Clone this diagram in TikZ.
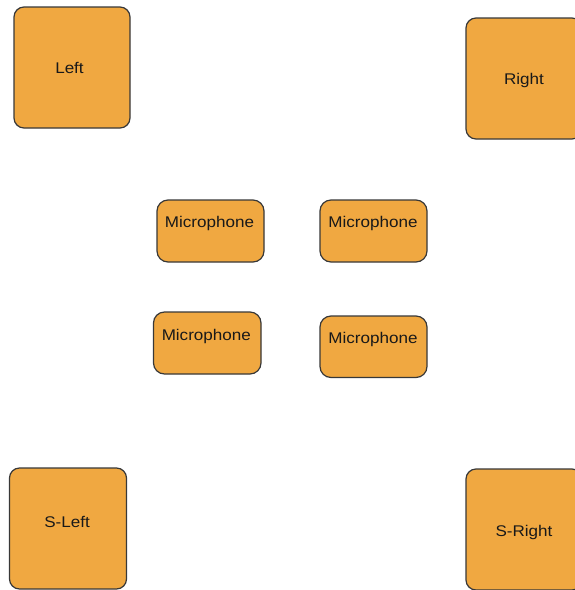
\documentclass[tikz,border=0pt]{standalone}
\usepackage{fontspec}
\setmainfont{Liberation Sans}[FakeStretch=1.1]
\begin{document}
\begin{tikzpicture}[x=1pt,y=-1pt,
  speaker/.style={draw=black!78, line width=1.2pt, fill=boxorange,
    rounded corners=10pt, minimum width=116pt, minimum height=121pt,
    inner sep=0pt},
  mic/.style={speaker, rounded corners=11pt, minimum width=107pt,
    minimum height=62pt},
  lbl/.style={anchor=base, inner sep=0pt, text=black!90,
    font=\fontsize{15.5}{18}\selectfont}]
\definecolor{boxorange}{HTML}{F0A841}
\useasboundingbox (0,0) rectangle (575,590);
\clip (0,0) rectangle (575,590);

% loudspeakers in the corners
\node[speaker] (left)   at (72,67.5)   {};
\node[speaker] (right)  at (524,78.5)  {};
\node[speaker, minimum width=117pt] (sleft)  at (68,528.5)  {};
\node[speaker] (sright) at (524,529.5) {};

% microphones in the middle
\node[mic] (mic1) at (210.5,231) {};
\node[mic] (mic2) at (373.5,231) {};
\node[mic, minimum width=107.5pt] (mic3) at (207.25,343) {};
\node[mic, minimum height=61.5pt] (mic4) at (373.5,346.75) {};

% captions
\node[lbl] (leftlbl)   at (69.5,73.8)  {Left};
\node[lbl] (rightlbl)  at (524,84)     {Right};
\node[lbl] (sleftlbl)  at (67,527.4)   {S-Left};
\node[lbl] (srightlbl) at (524,536.5)  {S-Right};
\node[lbl] (mic1lbl)   at (209.5,227.9) {Microphone};
\node[lbl] (mic2lbl)   at (373,227.9)   {Microphone};
\node[lbl] (mic3lbl)   at (206.3,340.4) {Microphone};
\node[lbl] (mic4lbl)   at (373,343.7)   {Microphone};
\end{tikzpicture}
\end{document}
